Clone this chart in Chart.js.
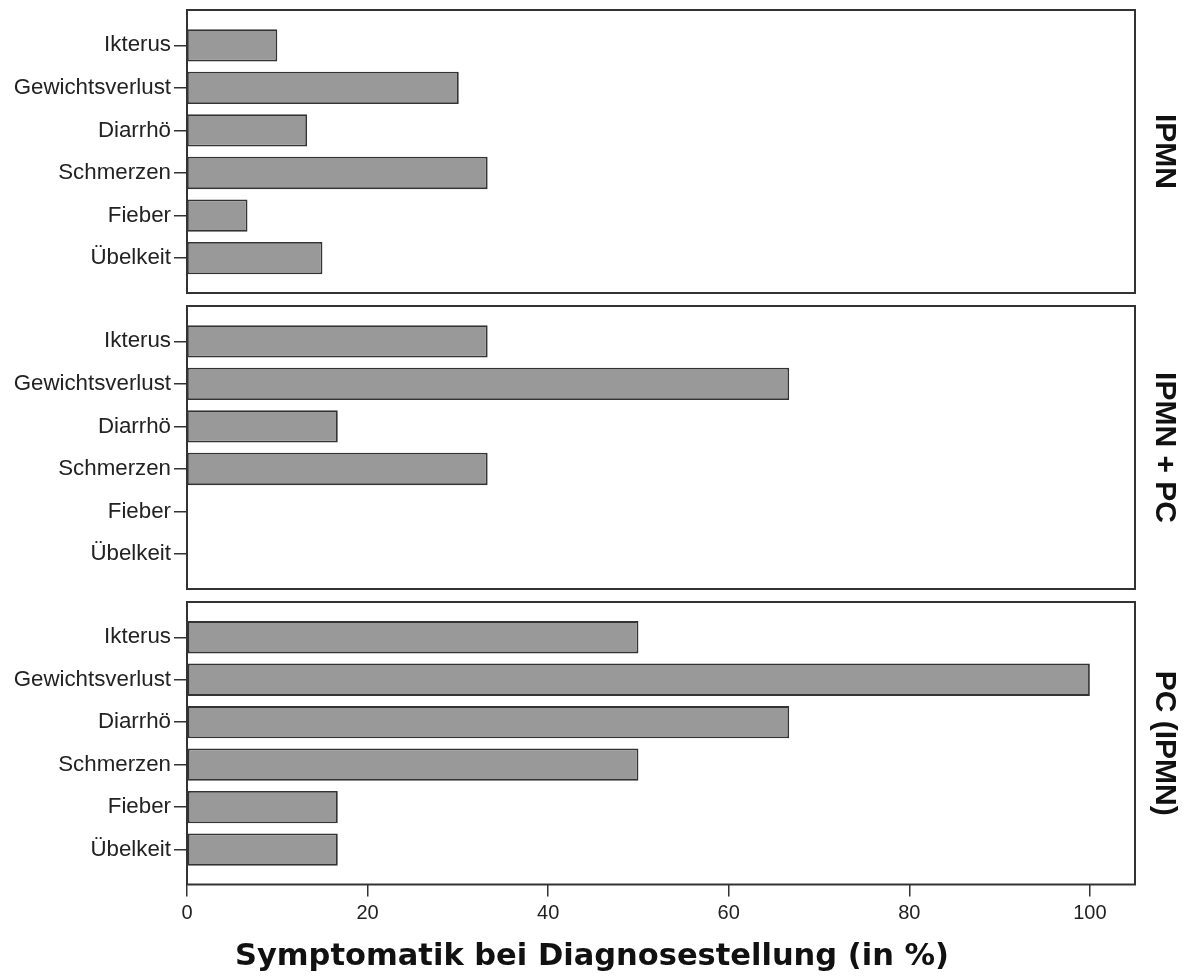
<!DOCTYPE html>
<html><head><meta charset="utf-8">
<script src="https://cdn.jsdelivr.net/npm/chart.js@4.4.1/dist/chart.umd.min.js"></script>
<style>
html,body{margin:0;padding:0;background:#fff;}
#wrap{position:relative;width:1184px;height:976px;background:#fff;}
.panel{position:absolute;left:0;width:1184px;}
</style></head><body>
<div id="wrap">
<div class="panel" style="top:0;height:303px"><canvas id="c1"></canvas></div>
<div class="panel" style="top:296px;height:303px"><canvas id="c2"></canvas></div>
<div class="panel" style="top:592px;height:384px"><canvas id="c3"></canvas></div>
</div>
<script>
const categories = ['Ikterus', 'Gewichtsverlust', 'Diarrhö', 'Schmerzen', 'Fieber', 'Übelkeit'];
const groups = ['IPMN', 'IPMN + PC', 'PC (IPMN)'];
const valuesIPMN = [10, 30.1, 13.3, 33.3, 6.7, 15];
const valuesIPMNPC = [33.3, 66.7, 16.7, 33.3, 0, 0];
const valuesPC = [50, 100, 66.7, 50, 16.7, 16.7];
const xTicks = [0, 20, 40, 60, 80, 100];
const xTitle = 'Symptomatik bei Diagnosestellung (in %)';

const labelFont = '"Liberation Sans", Arial, sans-serif';

const framePlugin = {
  id: 'frame',
  afterDraw(chart, args, opts) {
    const {ctx, chartArea: a} = chart;
    ctx.save();
    ctx.strokeStyle = '#333333';
    ctx.lineWidth = 2;
    ctx.strokeRect(a.left, a.top, a.right - a.left, a.bottom - a.top);
    ctx.translate(a.right + 29, (a.top + a.bottom) / 2);
    ctx.rotate(Math.PI / 2);
    ctx.font = 'bold 30px ' + labelFont;
    ctx.fillStyle = '#111';
    ctx.textAlign = 'center';
    ctx.textBaseline = 'middle';
    ctx.fillText(opts.label, 0, 0);
    ctx.restore();
  }
};

function makeChart(id, label, values, showX) {
  const data = values.map((v, i) => ({x: v, y: i}));
  return new Chart(document.getElementById(id), {
    type: 'bar',
    data: {datasets: [{
      data,
      yAxisID: 'y',
      backgroundColor: '#999999',
      borderColor: '#333333',
      borderWidth: 1.8,
      borderSkipped: false,
      categoryPercentage: 0.8,
      barPercentage: 0.95
    }]},
    plugins: [framePlugin],
    options: {
      indexAxis: 'y',
      responsive: true,
      maintainAspectRatio: false,
      animation: false,
      events: [],
      layout: {padding: {top: 10, right: 0, bottom: showX ? 0 : 10, left: 0}},
      plugins: {
        legend: {display: false},
        tooltip: {enabled: false},
        frame: {label},
        title: showX ? {
          display: true, text: xTitle, position: 'bottom', color: '#111',
          font: {family: '"DejaVu Sans", Verdana, sans-serif', size: 30.5, weight: 'bold', lineHeight: 1},
          padding: {top: 4, bottom: 4}
        } : {display: false}
      },
      scales: {
        x: {
          type: 'linear', min: 0, max: 105, display: showX,
          afterBuildTicks: s => { s.ticks = xTicks.map(v => ({value: v})); },
          ticks: {color: '#222', font: {family: labelFont, size: 20}, padding: 5, maxRotation: 0},
          grid: {drawOnChartArea: false, drawTicks: true, tickLength: 12, color: '#333', lineWidth: 1.5},
          border: {display: false},
          afterFit: s => { s.paddingLeft = 0; s.paddingRight = 0; if (showX) s.height = 53; }
        },
        y: {
          type: 'linear', reverse: true, min: -0.83, max: 5.82, offset: false,
          afterBuildTicks: s => { s.ticks = categories.map((c, i) => ({value: i})); },
          ticks: {color: '#222', font: {family: labelFont, size: 22.3}, padding: 3, autoSkip: false,
                  callback: v => categories[v]},
          grid: {offset: false, drawOnChartArea: false, drawTicks: true, tickLength: 13, color: '#333', lineWidth: 1.5},
          border: {display: false},
          afterFit: s => { s.width = 187; s.paddingTop = 0; s.paddingBottom = 0; }
        },
        yR: {
          type: 'linear', position: 'right', display: true, min: 0, max: 1,
          ticks: {display: false}, grid: {display: false, drawTicks: false}, border: {display: false},
          afterFit: s => { s.width = 49; s.paddingTop = 0; s.paddingBottom = 0; }
        }
      }
    }
  });
}

makeChart('c1', groups[0], valuesIPMN, false);
makeChart('c2', groups[1], valuesIPMNPC, false);
makeChart('c3', groups[2], valuesPC, true);
</script>
</body></html>
